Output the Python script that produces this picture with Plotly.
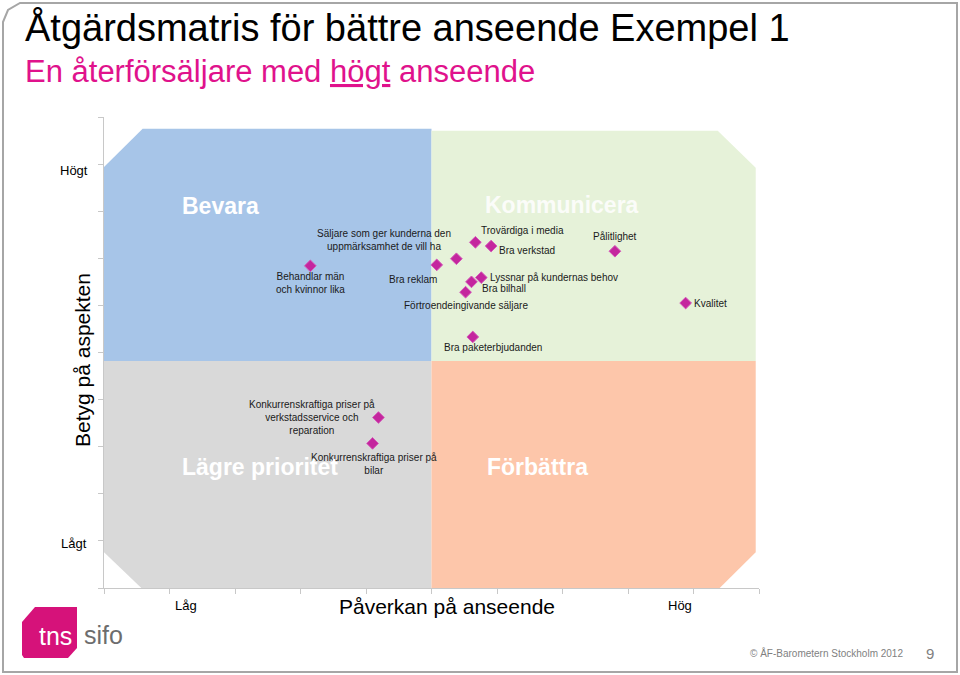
import plotly.graph_objects as go

# ---------------- data ----------------
names = [
    "Behandlar män<br>och kvinnor lika",
    "Säljare som ger kunderna den<br>uppmärksamhet de vill ha",
    "Bra reklam",
    "Trovärdiga i media",
    "Bra verkstad",
    "Pålitlighet",
    "Lyssnar på kundernas behov",
    "Bra bilhall",
    "Förtroendeingivande säljare",
    "Kvalitet",
    "Bra paketerbjudanden",
    "Konkurrenskraftiga priser på<br>verkstadsservice och<br>reparation",
    "Konkurrenskraftiga priser på<br>bilar",
]
impact = [3.15, 5.38, 5.08, 5.67, 5.91, 7.80, 5.76, 5.61, 5.52, 8.88, 5.63, 4.19, 4.10]
rating = [6.84, 6.99, 6.86, 7.34, 7.26, 7.15, 6.59, 6.50, 6.28, 6.05, 5.33, 3.62, 3.07]

# label offsets in pixels (dx right, dy down) - styling only
label_dx = [0, -72, -24, 47, 36, 0, 73, 33, 0, 25, 20, -66, 1]
label_dy = [17, -19, 15, -12, 4, -15, 0, 7, 13, 0, 11, 0, 21]

quadrants = ["Bevara", "Kommunicera", "Lägre prioritet", "Förbättra"]
x_ticks = list(range(0, 11))
y_ticks = list(range(0, 11))

# ---------------- figure ----------------
W, H = 960, 675
L, R, T, B = 104, 201, 117, 87
PW, PH = W - L - R, H - T - B
FONT = "Liberation Sans, Arial"

def pp(px, py):
    """pixel -> paper coordinates"""
    return (px - L) / PW, (H - B - py) / PH

def path_px(points, close=True):
    s = ""
    for i, (px, py) in enumerate(points):
        x, y = pp(px, py)
        s += ("M" if i == 0 else "L") + f"{x:.5f},{y:.5f} "
    return s + ("Z" if close else "")

def path_data(points):
    s = ""
    for i, (x, y) in enumerate(points):
        s += ("M" if i == 0 else "L") + f"{x},{y} "
    return s + "Z"

fig = go.Figure()

fig.add_trace(go.Scatter(
    x=impact, y=rating, mode="markers",
    marker=dict(symbol="diamond", size=9, color="#c4269e",
                line=dict(width=1, color="#d458b8")),
    hovertext=names, hoverinfo="text", showlegend=False,
))

split_y = 4.82
shapes = [
    dict(type="path", xref="x", yref="y", layer="below", line=dict(width=0),
         fillcolor="#a7c5e8",
         path=path_data([(0, split_y), (0, 8.94), (0.59, 9.75), (5, 9.75), (5, split_y)])),
    dict(type="path", xref="x", yref="y", layer="below", line=dict(width=0),
         fillcolor="#e6f2d9",
         path=path_data([(5, split_y), (5, 9.71), (9.37, 9.71), (9.95, 8.92), (9.95, split_y)])),
    dict(type="path", xref="x", yref="y", layer="below", line=dict(width=0),
         fillcolor="#d9d9d9",
         path=path_data([(0, 0.76), (0, split_y), (5, split_y), (5, 0), (0.57, 0)])),
    dict(type="path", xref="x", yref="y", layer="below", line=dict(width=0),
         fillcolor="#fdc6aa",
         path=path_data([(5, 0), (5, split_y), (9.95, split_y), (9.95, 0.76), (9.40, 0)])),
    # slide frame
    dict(type="path", xref="paper", yref="paper", layer="above",
         line=dict(width=2, color="#a6a6a6"),
         path=path_px([(3, 672), (3, 22), (8, 10), (20, 3), (957, 3), (957, 672)])),
    # tns logo
    dict(type="path", xref="paper", yref="paper", layer="above", line=dict(width=0),
         fillcolor="#d6127a",
         path=path_px([(22, 622), (35, 607), (77, 607), (77, 648), (68, 658), (24, 658), (22, 655)])),
]

annotations = []
for nm, x, y, dx, dy in zip(names, impact, rating, label_dx, label_dy):
    annotations.append(dict(
        x=x, y=y, xref="x", yref="y", text=nm, showarrow=False,
        xshift=dx, yshift=-dy, align="center", xanchor="center", yanchor="middle",
        font=dict(family=FONT, size=10, color="#1a1a1a"),
    ))

quad_pos = [(220, 206), (562, 205), (260, 467), (537, 467)]
quad_col = ["white", "rgba(255,255,255,0.85)", "white", "white"]
for q, (px, py), c in zip(quadrants, quad_pos, quad_col):
    x, y = pp(px, py)
    annotations.append(dict(
        x=x, y=y, xref="paper", yref="paper", text=f"<b>{q}</b>", showarrow=False,
        xanchor="center", yanchor="middle",
        font=dict(family=FONT, size=23, color=c),
    ))

def txt(text, px, py, size, color="#000000", xanchor="center", angle=0):
    x, y = pp(px, py)
    annotations.append(dict(
        x=x, y=y, xref="paper", yref="paper", text=text, showarrow=False,
        xanchor=xanchor, yanchor="middle", textangle=angle,
        font=dict(family=FONT, size=size, color=color),
    ))

txt("Åtgärdsmatris för bättre anseende Exempel 1", 23, 27, 38, xanchor="left")
txt("En återförsäljare med <u>högt</u> anseende", 23, 71, 31, color="#e0128c", xanchor="left")
txt("Högt", 74, 170, 13)
txt("Lågt", 74, 543, 13)
txt("Betyg på aspekten", 82, 360, 21, angle=-90)
txt("Låg", 186, 605, 13)
txt("Påverkan på anseende", 447, 606, 21)
txt("Hög", 680, 605, 13)
txt("© ÅF-Barometern Stockholm 2012", 826, 653, 10, color="#7f7f7f")
txt("9", 930, 653, 15, color="#7f7f7f")
txt("tns", 55, 636, 25, color="white")
txt("sifo", 103, 635, 25, color="#6d6d6d")

axis_common = dict(showgrid=False, zeroline=False, showticklabels=False,
                   showline=True, linecolor="#c8c8c8", linewidth=1,
                   ticks="outside", ticklen=5, tickcolor="#c8c8c8", fixedrange=True)

fig.update_layout(
    width=W, height=H,
    margin=dict(l=L, r=R, t=T, b=B),
    paper_bgcolor="white", plot_bgcolor="white",
    xaxis=dict(range=[0, 10], tickvals=x_ticks, **axis_common),
    yaxis=dict(range=[0, 10], tickvals=y_ticks, **axis_common),
    shapes=shapes, annotations=annotations,
    showlegend=False,
)

fig.write_html("out.html", config={"displayModeBar": False},
               post_script="document.body.style.margin='0';document.body.style.overflow='hidden';")
